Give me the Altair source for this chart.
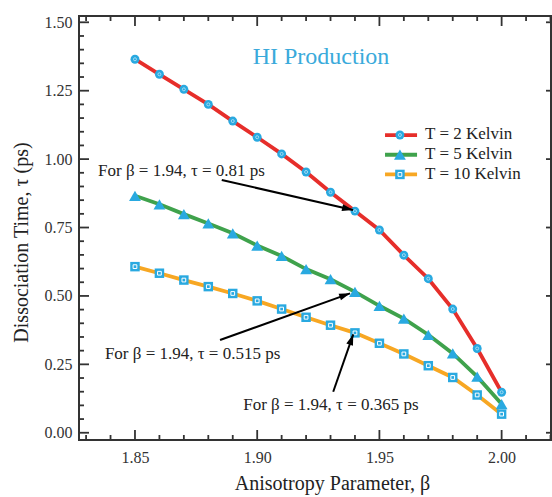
import altair as alt
import pandas as pd

# ---------------- data ----------------
beta = [1.85, 1.86, 1.87, 1.88, 1.89, 1.90, 1.91, 1.92,
        1.93, 1.94, 1.95, 1.96, 1.97, 1.98, 1.99, 2.00]
tau_2K = [1.365, 1.310, 1.255, 1.200, 1.139, 1.080, 1.019, 0.953,
          0.879, 0.810, 0.741, 0.649, 0.563, 0.452, 0.308, 0.148]
tau_5K = [0.866, 0.835, 0.799, 0.765, 0.729, 0.684, 0.646, 0.598,
          0.561, 0.515, 0.464, 0.417, 0.358, 0.290, 0.205, 0.105]
tau_10K = [0.607, 0.583, 0.558, 0.534, 0.509, 0.482, 0.452, 0.422,
           0.393, 0.365, 0.327, 0.288, 0.245, 0.202, 0.138, 0.068]
series = ["T = 2 Kelvin", "T = 5 Kelvin", "T = 10 Kelvin"]

x_major = [1.85, 1.90, 1.95, 2.00]
x_minor = [1.83, 1.84, 1.86, 1.87, 1.88, 1.89, 1.91, 1.92, 1.93, 1.94,
           1.96, 1.97, 1.98, 1.99, 2.01, 2.02]
y_major = [0.00, 0.25, 0.50, 0.75, 1.00, 1.25, 1.50]
y_minor = [0.05, 0.10, 0.15, 0.20, 0.30, 0.35, 0.40, 0.45, 0.55, 0.60,
           0.65, 0.70, 0.80, 0.85, 0.90, 0.95, 1.05, 1.10, 1.15, 1.20,
           1.30, 1.35, 1.40, 1.45]

annot_text = ["For \u03b2 = 1.94, \u03c4 = 0.81 ps",
              "For \u03b2 = 1.94, \u03c4 = 0.515 ps",
              "For \u03b2 = 1.94, \u03c4 = 0.365 ps"]

# ---------------- styles / positions ----------------
line_colors = ["#E62E2A", "#3FA24C", "#F7A723"]
marker_color = "#29A9E0"
marker_shapes = ["circle", "triangle-up", "square"]
marker_sizes = [80, 140, 90]
font = "Liberation Serif"
axis_color = "#333333"

x_dom = [1.8271, 2.0202]
y_dom = [-0.0265, 1.523]
W, H = 472, 424

annot_x = [1.8349, 1.8377, 1.8943]
annot_y = [0.938, 0.268, 0.083]
arrow_x1 = [1.8855, 1.8848, 1.9311]
arrow_y1 = [0.9237, 0.3388, 0.1499]
arrow_x2 = [1.9392, 1.9380, 1.9393]
arrow_y2 = [0.8140, 0.5095, 0.3596]
arrow_ang = [102.9, 70.2, 19.2]

leg_x1, leg_x2, leg_xm, leg_xt = 1.9523, 1.9654, 1.9584, 1.9687
leg_y = [1.088, 1.016, 0.944]
leg_ty = [1.072, 1.000, 0.926]

# ---------------- frames ----------------
rows = []
for s, vals in zip(series, [tau_2K, tau_5K, tau_10K]):
    for b, t in zip(beta, vals):
        rows.append({"beta": b, "tau": t, "series": s})
df = pd.DataFrame(rows)

xs = alt.Scale(domain=x_dom, nice=False, zero=False)
ys = alt.Scale(domain=y_dom, nice=False, zero=False)
xaxis = alt.Axis(values=x_major, format=".2f", ticks=False, domain=False, grid=False,
                 labelPadding=9, labelFontSize=16, labelFont=font, labelColor="#333",
                 title="Anisotropy Parameter, \u03b2", titleFont=font, titleFontSize=20,
                 titleFontWeight="normal", titleColor="#222", titleX=253, titleY=49,
                 titleBaseline="alphabetic")
yaxis = alt.Axis(values=y_major, format=".2f", ticks=False, domain=False, grid=False,
                 labelPadding=7, labelFontSize=16, labelFont=font, labelColor="#333",
                 title="Dissociation Time, \u03c4 (ps)", titleFont=font, titleFontSize=20,
                 titleFontWeight="normal", titleColor="#222", titleX=-58, titleY=226,
                 titleBaseline="middle", titleAngle=270)


def X(f):
    return alt.X(f, type="quantitative", scale=xs, axis=xaxis)


def Y(f):
    return alt.Y(f, type="quantitative", scale=ys, axis=yaxis)


layers = []

# tick marks (inward)
d_ymaj = pd.DataFrame({"v": y_major})
d_ymin = pd.DataFrame({"v": y_minor})
d_xmaj = pd.DataFrame({"v": x_major})
d_xmin = pd.DataFrame({"v": x_minor})
tk = dict(color=axis_color, strokeWidth=1.8)
layers += [
    alt.Chart(d_ymaj).mark_rule(**tk).encode(y=Y("v"), x=alt.value(0), x2=alt.value(10)),
    alt.Chart(d_ymin).mark_rule(**tk).encode(y=Y("v"), x=alt.value(0), x2=alt.value(5)),
    alt.Chart(d_ymaj).mark_rule(**tk).encode(y=Y("v"), x=alt.value(W), x2=alt.value(W - 5)),
    alt.Chart(d_xmaj).mark_rule(**tk).encode(x=X("v"), y=alt.value(H), y2=alt.value(H - 10)),
    alt.Chart(d_xmin).mark_rule(**tk).encode(x=X("v"), y=alt.value(H), y2=alt.value(H - 5)),
    alt.Chart(d_xmaj).mark_rule(**tk).encode(x=X("v"), y=alt.value(0), y2=alt.value(10)),
    alt.Chart(d_xmin).mark_rule(**tk).encode(x=X("v"), y=alt.value(0), y2=alt.value(5)),
]

# legend frame
leg = pd.DataFrame({"series": series, "x1": [leg_x1] * 3, "x2": [leg_x2] * 3,
                    "xm": [leg_xm] * 3, "xt": [leg_xt] * 3, "y": leg_y, "ty": leg_ty})

# series lines + legend lines
for s, c in zip(series, line_colors):
    layers.append(
        alt.Chart(df).transform_filter(alt.datum.series == s)
        .mark_line(color=c, strokeWidth=3.8)
        .encode(x=X("beta"), y=Y("tau"))
    )
    layers.append(
        alt.Chart(leg).transform_filter(alt.datum.series == s)
        .mark_rule(color=c, strokeWidth=3.8)
        .encode(x=X("x1"), x2="x2", y=Y("y"))
    )

# markers
for s, shp, sz in zip(series, marker_shapes, marker_sizes):
    for src, xf, yf in [(df, "beta", "tau"), (leg, "xm", "y")]:
        layers.append(
            alt.Chart(src).transform_filter(alt.datum.series == s)
            .mark_point(shape=shp, size=sz, filled=True, color=marker_color, opacity=1)
            .encode(x=X(xf), y=Y(yf))
        )
        if shp == "circle":
            layers.append(
                alt.Chart(src).transform_filter(alt.datum.series == s)
                .mark_point(shape="circle", size=9, filled=False, stroke="#BDE6F7",
                            strokeWidth=0.9, opacity=0.9)
                .encode(x=X(xf), y=Y(yf))
            )
        if shp == "square":
            layers.append(
                alt.Chart(src).transform_filter(alt.datum.series == s)
                .mark_point(shape="square", size=14, filled=False, stroke="white",
                            strokeWidth=1, opacity=1)
                .encode(x=X(xf), y=Y(yf))
            )

# legend text
layers.append(
    alt.Chart(leg).mark_text(align="left", baseline="alphabetic", font=font,
                             fontSize=17, color="#222")
    .encode(x=X("xt"), y=Y("ty"), text="series:N")
)

# HI Production
hi = pd.DataFrame({"x": [1.9261], "y": [1.3465], "t": ["HI Production"]})
layers.append(
    alt.Chart(hi).mark_text(align="center", baseline="alphabetic", font=font,
                            fontSize=24, color="#3AAADB")
    .encode(x=X("x"), y=Y("y"), text="t:N")
)

# annotations
ann = pd.DataFrame({"x": annot_x, "y": annot_y, "t": annot_text,
                    "x1": arrow_x1, "y1": arrow_y1, "x2": arrow_x2, "y2": arrow_y2,
                    "ang": arrow_ang})
layers.append(
    alt.Chart(ann).mark_text(align="left", baseline="alphabetic", font=font,
                             fontSize=17, color="#222")
    .encode(x=X("x"), y=Y("y"), text="t:N")
)
layers.append(
    alt.Chart(ann).mark_rule(color="black", strokeWidth=2)
    .encode(x=X("x1"), y=Y("y1"), x2="x2", y2="y2")
)
layers.append(
    alt.Chart(ann).mark_point(shape="M0,0 L0.32,1 L-0.32,1 Z", size=480, filled=True,
                              color="black", opacity=1)
    .encode(x=X("x2"), y=Y("y2"), angle=alt.Angle("ang:Q", scale=None))
)

chart = alt.layer(*layers).properties(
    width=W, height=H,
    autosize=alt.AutoSizeParams(type="none"),
    padding={"left": 79, "top": 16, "right": 1, "bottom": 57},
    background="white",
).configure_view(stroke=axis_color, strokeWidth=2)

chart.save("out.html", embed_options={"renderer": "svg", "actions": False})
